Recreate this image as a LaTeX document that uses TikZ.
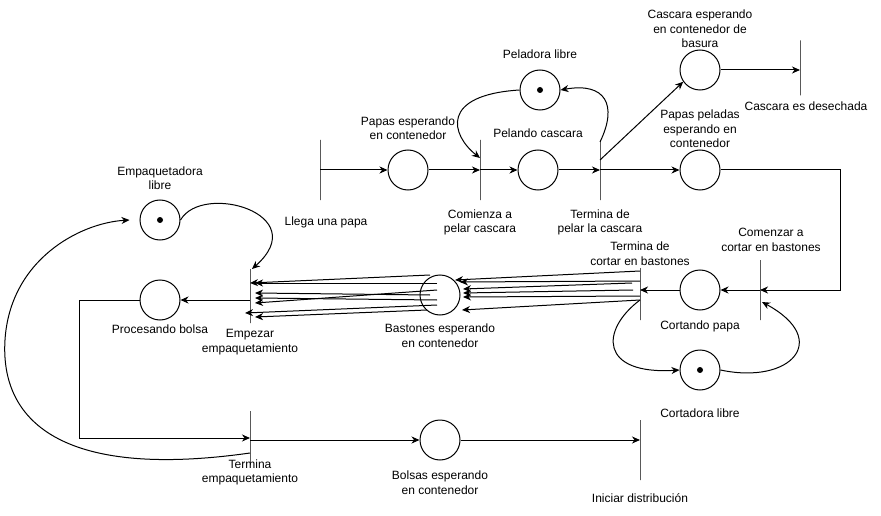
\documentclass[tikz,border=0pt]{standalone}
\usepackage{fontspec}
\setmainfont{Liberation Sans}
\usetikzlibrary{arrows.meta,calc,positioning}

\begin{document}
\begin{tikzpicture}[
      x=1pt, y=-1pt,
      font=\fontsize{12}{14.5}\selectfont,
      line width=1pt,
      >={Stealth[length=8pt,width=7pt,inset=2.5pt]},
      placenode/.style={circle, draw, minimum size=40pt, inner sep=0pt},
      transnode/.style={draw, minimum width=0pt, minimum height=60pt, inner sep=0pt, outer sep=0pt},
      tokendot/.style={circle, fill, minimum size=6pt, inner sep=0pt},
      lbl/.style={align=center, inner sep=0pt},
]
\useasboundingbox (0,0) rectangle (881,516);

\node[transnode] (llega) at (320,170) {};
\node[placenode] (papas_esp) at (408,170) {};
\node[transnode] (comienza) at (480,170) {};
\node[placenode] (pelando) at (538,170) {};
\node[transnode] (termina_pelar) at (600,170) {};
\node[placenode] (peladora) at (540,90) {};
\node[tokendot] (peladora_tok) at (peladora.center) {};
\node[placenode] (cascara_esp) at (700,70) {};
\node[transnode, minimum height=55pt] (cascara_des) at (800,68) {};
\node[placenode] (papas_peladas) at (700,170) {};

\node[transnode] (comenzar_cortar) at (760,290) {};
\node[placenode] (cortando) at (700,290) {};
\node[transnode, minimum height=52pt] (termina_cortar) at (640,294) {};
\node[placenode] (cortadora) at (700,370) {};
\node[tokendot] (cortadora_tok) at (cortadora.center) {};
\node[placenode] (bastones) at (440,295) {};

\node[transnode, minimum height=54pt] (empezar) at (250,296) {};
\node[placenode] (procesando) at (160,300) {};
\node[placenode] (empaquetadora) at (160,220) {};
\node[tokendot] (empaquetadora_tok) at (empaquetadora.center) {};
\node[transnode, minimum height=54pt] (termina_emp) at (250,438) {};
\node[placenode] (bolsas) at (440,440) {};
\node[transnode] (iniciar) at (640,450) {};
\coordinate (loop_left) at (5,340);

\node[lbl, above=10pt of peladora] (peladora_lbl) {Peladora libre};
\node[lbl, above=9pt of papas_esp] (papas_esp_lbl) {Papas esperando\\en contenedor};
\node[lbl, above=11pt of pelando] (pelando_lbl) {Pelando cascara};
\node[lbl, above=1pt of cascara_esp] (cascara_esp_lbl) {Cascara esperando\\en contenedor de\\basura};
\node[lbl, above=1pt of papas_peladas] (papas_peladas_lbl) {Papas peladas\\esperando en\\contenedor};
\node[lbl, below=16pt of llega, xshift=6pt] (llega_lbl) {Llega una papa};
\node[lbl, below=9pt of comienza] (comienza_lbl) {Comienza a\\pelar cascara};
\node[lbl, below=9pt of termina_pelar] (termina_pelar_lbl) {Termina de\\pelar la cascara};
\node[lbl, below=6pt of cascara_des, xshift=6pt] (cascara_des_lbl) {Cascara es desechada};
\node[lbl, above=8pt of comenzar_cortar, xshift=11pt] (comenzar_cortar_lbl) {Comenzar a\\cortar en bastones};
\node[lbl, above=2pt of termina_cortar] (termina_cortar_lbl) {Termina de\\cortar en bastones};
\node[lbl, below=10pt of cortando] (cortando_lbl) {Cortando papa};
\node[lbl, below=18pt of cortadora] (cortadora_lbl) {Cortadora libre};
\node[lbl, below=8pt of bastones] (bastones_lbl) {Bastones esperando\\en contenedor};
\node[lbl, above=9pt of empaquetadora] (empaquetadora_lbl) {Empaquetadora\\libre};
\node[lbl, below=4pt of procesando] (procesando_lbl) {Procesando bolsa};
\node[lbl, below=6pt of empezar] (empezar_lbl) {Empezar\\empaquetamiento};
\node[lbl, below=-6pt of termina_emp] (termina_emp_lbl) {Termina\\empaquetamiento};
\node[lbl, below=10pt of bolsas] (bolsas_lbl) {Bolsas esperando\\en contenedor};
\node[lbl, below=13pt of iniciar] (iniciar_lbl) {Iniciar distribución};

\draw[->] (llega.center) -- (papas_esp.west);
\draw[->] (papas_esp.east) -- (comienza.center);
\draw[->] (comienza.center) -- (pelando.west);
\draw[->] (pelando.east) -- (termina_pelar.center);
\draw[->] (termina_pelar.center) -- (papas_peladas.west);
\draw[->] ($(termina_pelar.center)+(0,-10)$) -- (cascara_esp.215);
\draw[->] (cascara_esp.east) -- (cascara_des.center |- cascara_esp.east);
\draw[->] (peladora.west) .. controls +(-80,5) and +(-29,-23) .. ($(comienza.center)+(0,-12)$);
\draw[->] ($(termina_pelar.center)+(0,-28)$) .. controls +(18,-37) and +(45,-8) .. (peladora.east);

\draw[->] (papas_peladas.east) -- ++(120,0) |- (comenzar_cortar.center);
\draw[->] (comenzar_cortar.center) -- (cortando.east);
\draw[->] (cortando.west) -- (termina_cortar.center |- cortando.west);
\draw[->] ($(termina_cortar.center)+(0,6)$) .. controls +(-40,30) and +(-80,5) .. (cortadora.west);
\draw[->] (cortadora.east) .. controls +(70,15) and +(70,38) .. ($(comenzar_cortar.center)+(2,12)$);

\draw[->] ($(termina_cortar.center)+(0,-23)$) -- ($(bastones.center)+(15,-15)$);
\draw[->] ($(termina_cortar.center)+(0,-13)$) -- ($(bastones.center)+(20,-13)$);
\draw[->] ($(termina_cortar.center)+(-8,-11)$) -- ($(bastones.center)+(23,-6)$);
\draw[->] ($(termina_cortar.center)+(-7,-4)$) -- ($(bastones.center)+(23,-2)$);
\draw[->] ($(termina_cortar.center)+(0,2)$) -- ($(bastones.center)+(23,2)$);
\draw[->] ($(termina_cortar.center)+(0,6)$) -- ($(bastones.center)+(22,15)$);

\draw[->] ($(bastones.center)+(-10,-20)$) -- ($(empezar.center)+(0,-13)$);
\draw[->] ($(bastones.center)+(-3,-12)$) -- ($(empezar.center)+(5,-13)$);
\draw[->] ($(bastones.center)+(-3,-5)$) -- ($(empezar.center)+(5,7)$);
\draw[->] ($(bastones.center)+(-10,0)$) -- ($(empezar.center)+(5,-3)$);
\draw[->] ($(bastones.center)+(-3,5)$) -- ($(empezar.center)+(5,2)$);
\draw[->] ($(bastones.center)+(-3,10)$) -- ($(empezar.center)+(-5,17)$);
\draw[->] ($(bastones.center)+(-13,15)$) -- ($(empezar.center)+(5,21)$);

\draw[->] (empaquetadora.east) .. controls +(22,-38) and +(62,-55) .. ($(empezar.north)+(2,0)$);
\draw[->] (empezar.center |- procesando.east) -- (procesando.east);
\draw[->] (procesando.west) -- ++(-60,0) |- (termina_emp.center);
\draw[->] ($(termina_emp.center)+(0,15)$) .. controls +(-190,27) and +(-5,80) .. (loop_left) .. controls +(5,-80) and +(-50,3) .. ($(empaquetadora.west)+(-10,0)$);
\draw[->] (termina_emp.center |- bolsas.west) -- (bolsas.west);
\draw[->] (bolsas.east) -- (iniciar.center |- bolsas.east);

\end{tikzpicture}
\end{document}
